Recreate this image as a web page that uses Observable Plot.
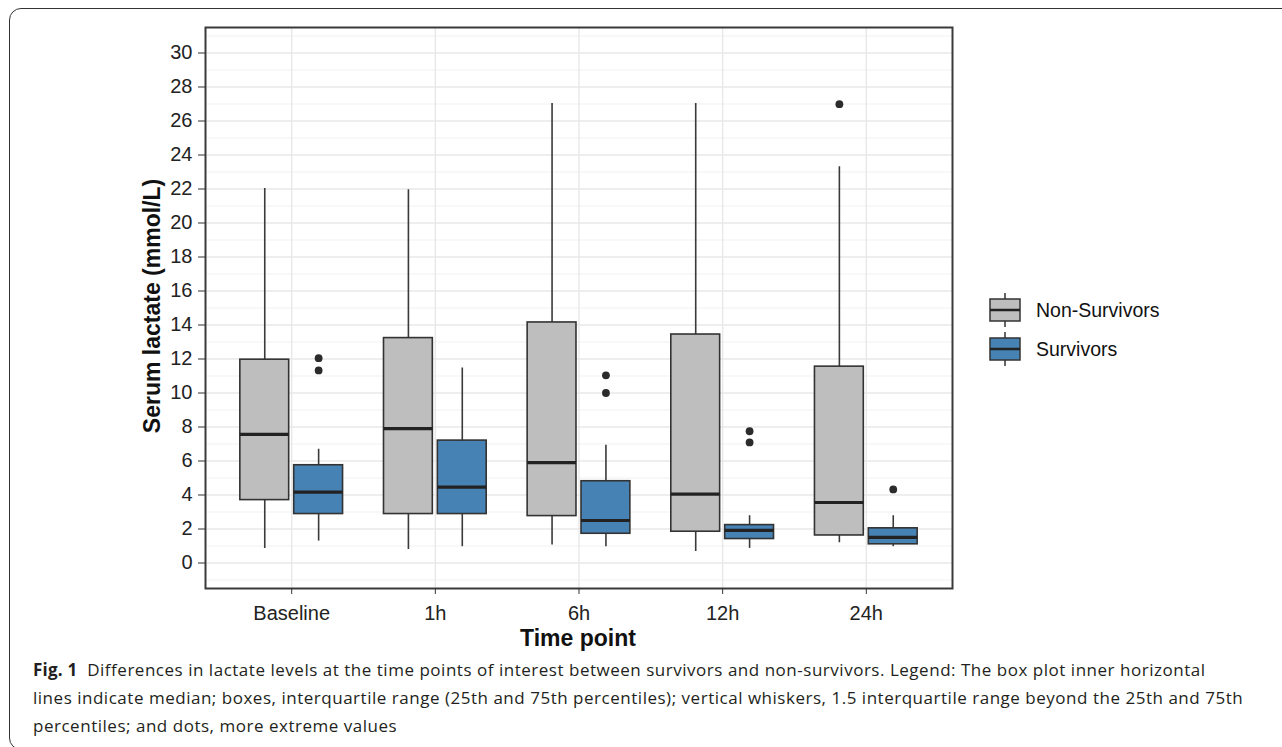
<!DOCTYPE html>
<html>
<head>
<meta charset="utf-8">
<script src="https://cdn.jsdelivr.net/npm/d3@7"></script>
<script src="https://cdn.jsdelivr.net/npm/@observablehq/plot@0.6"></script>
<style>
  html, body { margin: 0; padding: 0; background: #fff; width: 1282px; height: 747px; overflow: hidden; }
  #frame { position: absolute; left: 9px; top: 8px; width: 1300px; height: 742px; border: 1.5px solid #333; border-radius: 12px; box-sizing: border-box; }
  #chart { position: absolute; left: 0; top: 0; }
  .axtitle { position: absolute; font-family: "Liberation Sans", Arial, sans-serif; font-weight: bold; font-size: 23px; color: #111; white-space: nowrap; }
  #ytitle { left: 152px; top: 306px; transform: translate(-50%, -50%) rotate(-90deg); }
  #xtitle { left: 578px; top: 638px; transform: translate(-50%, -50%); }
  #legend { position: absolute; left: 970px; top: 270px; }
  #caption { position: absolute; left: 33px; top: 656px; width: 1240px; font-family: "Open Sans", sans-serif; font-size: 17px; letter-spacing: 0.52px; line-height: 28px; color: #231f20; white-space: nowrap; }
  #caption b { font-weight: 700; letter-spacing: 0.2px; }
</style>
</head>
<body>
<div id="frame"></div>
<div id="chart"></div>
<div class="axtitle" id="ytitle">Serum lactate (mmol/L)</div>
<div class="axtitle" id="xtitle">Time point</div>
<div id="legend"></div>
<div id="caption"><b>Fig. 1</b>&nbsp; Differences in lactate levels at the time points of interest between survivors and non-survivors. Legend: The box plot inner horizontal<br>lines indicate median; boxes, interquartile range (25th and 75th percentiles); vertical whiskers, 1.5 interquartile range beyond the 25th and 75th<br>percentiles; and dots, more extreme values</div>
<script>
// ---- data ----
const times = ["Baseline", "1h", "6h", "12h", "24h"];
const groups = ["Non-Survivors", "Survivors"];
const groupColors = ["#bebebe", "#4682b4"];
const yTicks = [0, 2, 4, 6, 8, 10, 12, 14, 16, 18, 20, 22, 24, 26, 28, 30];

const nonLow  = [0.86, 0.80, 1.06, 0.67, 1.19];
const nonQ1   = [3.70, 2.88, 2.76, 1.84, 1.62];
const nonMed  = [7.57, 7.91, 5.91, 4.05, 3.56];
const nonQ3   = [11.96, 13.23, 14.15, 13.44, 11.55];
const nonHigh = [22.03, 21.96, 27.03, 27.03, 23.31];

const survLow  = [1.29, 0.96, 0.96, 0.86, 0.96];
const survQ1   = [2.88, 2.88, 1.72, 1.41, 1.10];
const survMed  = [4.17, 4.46, 2.50, 1.92, 1.51];
const survQ3   = [5.75, 7.20, 4.81, 2.23, 2.04];
const survHigh = [6.69, 11.47, 6.93, 2.78, 2.78];

const outlierTime  = ["Baseline", "Baseline", "6h", "6h", "12h", "12h", "24h", "24h"];
const outlierGroup = ["Survivors", "Survivors", "Survivors", "Survivors", "Survivors", "Survivors", "Non-Survivors", "Survivors"];
const outlierValue = [12.05, 11.33, 11.04, 10.00, 7.75, 7.09, 26.99, 4.33];

// ---- build tables ----
const dodge = 0.1875, half = 0.17;
const stats = [
  {low: nonLow, q1: nonQ1, med: nonMed, q3: nonQ3, high: nonHigh},
  {low: survLow, q1: survQ1, med: survMed, q3: survQ3, high: survHigh}
];
const rows = [];
times.forEach((t, i) => {
  groups.forEach((g, k) => {
    const s = stats[k];
    rows.push({time: t, group: g, pos: i + (k === 0 ? -dodge : dodge),
      low: s.low[i], q1: s.q1[i], med: s.med[i], q3: s.q3[i], high: s.high[i]});
  });
});
const outliers = outlierValue.map((v, j) => ({
  time: outlierTime[j], group: outlierGroup[j], value: v,
  pos: times.indexOf(outlierTime[j]) + (outlierGroup[j] === groups[0] ? -dodge : dodge)
}));
const colorOf = g => groupColors[groups.indexOf(g)];

const minor = d3.range(-1, 32, 2);
const catIdx = d3.range(times.length);

const plot = Plot.plot({
  width: 1282,
  height: 660,
  marginLeft: 205,
  marginRight: 330,
  marginTop: 27,
  marginBottom: 72,
  style: {fontFamily: "'Liberation Sans', Arial, sans-serif", fontSize: "20px", background: "transparent", overflow: "visible"},
  x: {type: "linear", domain: [-0.6, 4.6]},
  y: {domain: [-1.5, 31.5]},
  marks: [
    Plot.ruleY(minor, {stroke: "#eeeeee", strokeWidth: 0.8}),
    Plot.ruleY(yTicks, {stroke: "#e8e8e8", strokeWidth: 1.4}),
    Plot.ruleX(catIdx, {stroke: "#e8e8e8", strokeWidth: 1.4}),
    Plot.ruleX(rows, {x: "pos", y1: "low", y2: "high", stroke: "#3a3a3a", strokeWidth: 1.6}),
    Plot.rect(rows, {x1: d => d.pos - half, x2: d => d.pos + half, y1: "q1", y2: "q3",
      fill: d => colorOf(d.group), stroke: "#333", strokeWidth: 1.6}),
    Plot.ruleY(rows, {y: "med", x1: d => d.pos - half, x2: d => d.pos + half, stroke: "#222", strokeWidth: 3.2}),
    Plot.dot(outliers, {x: "pos", y: "value", r: 3.9, fill: "#2b2b2b", stroke: "none"}),
    Plot.frame({stroke: "#3a3a3a", strokeWidth: 2}),
    Plot.axisX(catIdx, {tickFormat: i => times[i], tickSize: 6, tickPadding: 11, label: null, stroke: "#333", color: "#222", fontSize: 20}),
    Plot.axisY(yTicks, {tickSize: 7, tickPadding: 6, label: null, stroke: "#333", color: "#222", fontSize: 20})
  ]
});
document.getElementById("chart").appendChild(plot);

// ---- legend ----
const lg = d3.select("#legend").append("svg").attr("width", 220).attr("height", 110);
groups.forEach((g, k) => {
  const cy = 40 + k * 39;
  const gEl = lg.append("g");
  gEl.append("line").attr("x1", 35).attr("x2", 35).attr("y1", cy - 17).attr("y2", cy + 17).attr("stroke", "#333").attr("stroke-width", 1.5);
  gEl.append("rect").attr("x", 20).attr("y", cy - 11).attr("width", 30).attr("height", 22)
    .attr("fill", groupColors[k]).attr("stroke", "#333").attr("stroke-width", 1.5);
  gEl.append("line").attr("x1", 20).attr("x2", 50).attr("y1", cy).attr("y2", cy).attr("stroke", "#222").attr("stroke-width", 2.5);
  lg.append("text").attr("x", 66).attr("y", cy).attr("dy", "0.35em")
    .attr("font-family", "'Liberation Sans', Arial, sans-serif").attr("font-size", 19.5).attr("fill", "#111")
    .text(g);
});
</script>
</body>
</html>
